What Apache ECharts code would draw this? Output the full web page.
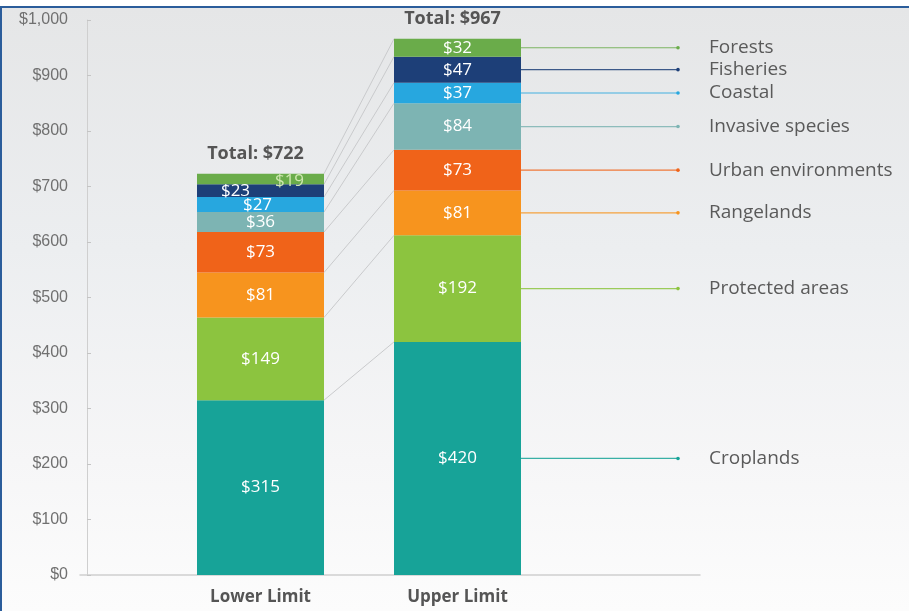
<!DOCTYPE html>
<html>
<head>
<meta charset="utf-8">
<script src="https://cdn.jsdelivr.net/npm/echarts@6/dist/echarts.min.js"></script>
<style>
  html, body { margin: 0; padding: 0; background: #ffffff; }
  #frame {
    position: absolute; left: 0; top: 6px; width: 907px; height: 603px;
    border-top: 2px solid #2b5d9b; border-left: 2px solid #2b5d9b;
    background: linear-gradient(to bottom, #e5e6e7 0%, #eceef0 40%, #f6f6f7 75%, #fcfcfc 100%);
  }
  #chart { position: absolute; left: 0; top: 0; width: 909px; height: 611px; }
</style>
</head>
<body>
<div id="frame"></div>
<div id="chart"></div>
<script>
// Global cost estimates, stacked by land / sea category
const categories = ['Lower Limit', 'Upper Limit'];
const segments = ['Croplands', 'Protected areas', 'Rangelands', 'Urban environments',
                  'Invasive species', 'Coastal', 'Fisheries', 'Forests'];
const lowerLimit = [315, 149, 81, 73, 36, 27, 23, 19];
const upperLimit = [420, 192, 81, 73, 84, 37, 47, 32];
const totals = [722, 967];
const yMin = 0, yMax = 1000, yStep = 100;

// Styling
const colors = ['#17a398', '#8cc43f', '#f7941e', '#f06319',
                '#7db4b3', '#27a7df', '#1d3f78', '#6aac4a'];
const BAR_W = 127;
const FONT = '"Open Sans", "Noto Sans", sans-serif';
const smallLabelShift = { Forests: [29, 2], Fisheries: [-25, 0], Coastal: [-3, 1] };
const smallLabelColor = { Forests: '#cfe8b0' };

function cumulative(vals) {
  const out = []; let s = 0;
  vals.forEach(v => { s += v; out.push(s); });
  return out;
}
const cumLower = cumulative(lowerLimit);
const cumUpper = cumulative(upperLimit);

const barSeries = segments.map((name, i) => ({
  name: name,
  type: 'bar',
  stack: 'total',
  barWidth: BAR_W,
  xAxisIndex: 0, yAxisIndex: 0,
  itemStyle: { color: colors[i] },
  label: {
    show: true, position: 'inside', color: '#ffffff',
    fontFamily: FONT, fontSize: 17,
    formatter: p => '$' + p.value
  },
  data: [
    {
      value: lowerLimit[i],
      label: {
        offset: smallLabelShift[name] || [0, 0],
        color: smallLabelColor[name] || '#ffffff'
      }
    },
    { value: upperLimit[i] }
  ]
}));

// Connector lines between the two stacks plus the category labels on the right
const guideSeries = {
  type: 'custom',
  xAxisIndex: 0, yAxisIndex: 0,
  clip: false,
  silent: true,
  z: 1,
  encode: { x: 0, y: 1 },
  data: segments.map((s, i) => [1, cumUpper[i], i]),
  renderItem: function (params, api) {
    const i = api.value(2);
    const left = api.coord([0, cumLower[i]]);
    const right = api.coord([1, cumUpper[i]]);
    const mid = api.coord([1, cumUpper[i] - upperLimit[i] / 2]);
    const half = BAR_W / 2;
    const lineStart = right[0] + half;
    const lineEnd = right[0] + half + 157;
    return {
      type: 'group',
      children: [
        {
          type: 'line',
          shape: { x1: left[0] + half, y1: left[1], x2: right[0] - half, y2: right[1] },
          style: { stroke: '#c9cacc', lineWidth: 1 }
        },
        {
          type: 'line',
          shape: { x1: lineStart, y1: mid[1], x2: lineEnd, y2: mid[1] },
          style: { stroke: colors[i], lineWidth: 1.2, opacity: 0.85 }
        },
        {
          type: 'circle',
          shape: { cx: lineEnd, cy: mid[1], r: 1.8 },
          style: { fill: colors[i] }
        },
        {
          type: 'text',
          style: {
            text: segments[i], x: lineEnd + 31, y: mid[1],
            fill: '#5a5a5a', font: '19px ' + FONT,
            textAlign: 'left', textVerticalAlign: 'middle',
            align: 'left', verticalAlign: 'middle'
          }
        }
      ]
    };
  }
};

// "Total" captions above each stack
const totalSeries = {
  type: 'custom',
  xAxisIndex: 0, yAxisIndex: 0,
  clip: false,
  silent: true,
  encode: { x: 0, y: 1 },
  data: categories.map((c, k) => [k, k === 0 ? cumLower[cumLower.length - 1] : cumUpper[cumUpper.length - 1]]),
  renderItem: function (params, api) {
    const k = api.value(0);
    const p = api.coord([k, api.value(1)]);
    return {
      type: 'text',
      style: {
        text: 'Total: $' + totals[k], x: p[0] - 5, y: p[1] - 20,
        fill: '#555555', font: 'bold 18px ' + FONT,
        textAlign: 'center', textVerticalAlign: 'middle',
        align: 'center', verticalAlign: 'middle'
      }
    };
  }
};

const chart = echarts.init(document.getElementById('chart'), null, { renderer: 'canvas' });
chart.setOption({
  backgroundColor: 'transparent',
  animation: false,
  grid: [
    { left: 162, right: 353, top: 20, bottom: 36 },
    { left: 80, right: 209, top: 20, bottom: 36 }
  ],
  xAxis: [
    {
      type: 'category', gridIndex: 0, data: categories,
      axisLine: { show: false }, axisTick: { show: false },
      axisLabel: { color: '#555555', fontFamily: FONT, fontWeight: 'bold', fontSize: 17, margin: 14 }
    },
    {
      type: 'value', gridIndex: 1, min: 0, max: 1,
      axisLine: { show: true, lineStyle: { color: '#cfcfcf', width: 1.5 } },
      axisTick: { show: false }, axisLabel: { show: false }, splitLine: { show: false }
    }
  ],
  yAxis: [
    {
      type: 'value', gridIndex: 0, min: yMin, max: yMax, interval: yStep,
      position: 'left', offset: 75,
      axisLine: { show: true, lineStyle: { color: '#cfcfcf', width: 1 } },
      axisTick: { show: true, inside: true, length: 4, lineStyle: { color: '#c4c4c4' } },
      splitLine: { show: false },
      axisLabel: {
        color: '#707070', fontFamily: '"Liberation Sans", Arial, sans-serif', fontSize: 16, margin: 19,
        formatter: v => '$' + v.toLocaleString('en-US')
      }
    },
    { type: 'value', gridIndex: 1, min: yMin, max: yMax, show: false }
  ],
  series: [...barSeries, guideSeries, totalSeries]
});
</script>
</body>
</html>
